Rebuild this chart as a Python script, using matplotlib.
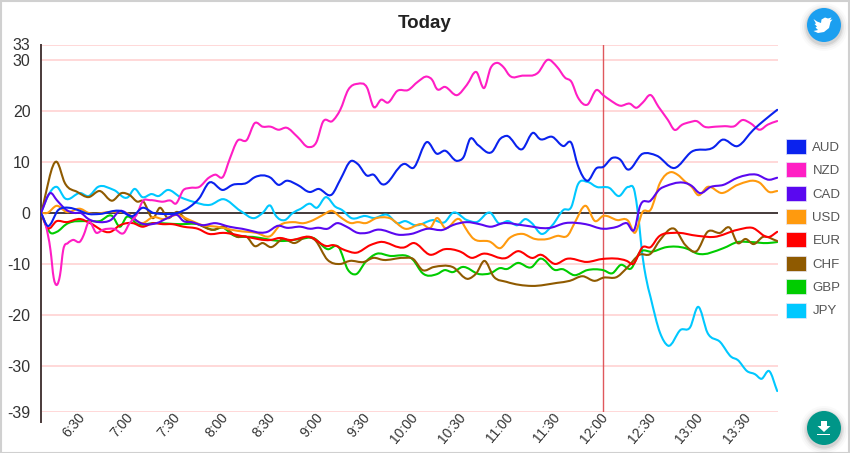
import numpy as np
import matplotlib
matplotlib.use('Agg')
import matplotlib.pyplot as plt
from matplotlib.path import Path
from matplotlib.patches import PathPatch, Patch, Circle, Rectangle, Polygon
from matplotlib.transforms import ScaledTranslation

plt.rcParams['font.family'] = ['Liberation Sans', 'DejaVu Sans']

# (minutes after 6:00, value)
aud = [(5,0),(9,-2.5),(16,.6),(23,1),(28,.6),(35,-.2),(42,-.2),(55,.4),(63,-.6),(69,1),(76,0),(82,-.2),(91,0),
       (99,1.2),(105,2.9),(111,5.9),(120,4.5),(126,5.5),(135,5.9),(140,7),(150,6.9),(155,5.5),(160,6.3),(167,5.5),
       (175,4.1),(180,4.7),(189,3.7),(194,6.5),(201,10.2),(205,9.6),(211,7.3),(215,7.5),(220,5.7),(235,9.6),(240,8.8),
       (249,13.9),(255,11.6),(260,12.2),(268,10.2),(272,11),(276,14.5),(281,13.3),(290,12),(295,14.5),(299,15.1),
       (309,12.5),(316,15.7),(320,14.5),(328,14.9),(335,13.1),(340,13.7),(344,9.4),(350,6.3),(356,8.8),(360,9),
       (366,10.8),(371,10.4),(375,8.6),(385,11.6),(394,11.2),(405,8.8),(416,12),(430,12.9),(435,14.3),(445,13.1),
       (455,16.3),(462,18.2),(470,20.2)]
nzd = [(5,0),(8,-2.4),(11,-7.3),(13,-12.7),(15,-14.1),(17,-12.2),(19,-7.3),(22,-5.9),(25,-5.3),(30,-5.5),(32,-4.3),
       (35,-1.8),(40,-3.9),(44,-3.3),(51,-3.1),(58,-3.7),(60,-2.5),(66,0),(69,2.2),(74,2.5),(82,2.2),(87,2.4),(90,1.8),
       (95,4.5),(99,4.9),(105,5.1),(111,6.9),(115,7.5),(120,7.1),(124,10.4),(129,14.1),(135,14.3),(140,17.6),(145,16.9),
       (150,16.9),(155,16.3),(160,16.7),(167,14.9),(174,12.9),(179,13.9),(183,17.8),(189,18),(194,20.2),(199,24.1),
       (205,25.3),(211,24.5),(215,20.8),(220,22.2),(224,21.6),(230,23.9),(237,24.1),(243,25.7),(249,26.7),(252,26.1),
       (255,24.3),(260,24.7),(268,23.1),(274,25.1),(280,27.6),(285,24.5),(289,28.4),(293,29.4),(297,28.6),(301,26.9),
       (309,26.9),(319,27.5),(325,30),(331,28.6),(336,26.5),(340,25.7),(344,22.7),(350,21.2),(356,24.1),(360,23.1),
       (364,22.2),(371,21),(377,21.4),(381,20.6),(385,21.6),(390,23.1),(395,20.8),(401,18.2),(405,16.3),(410,17.3),
       (415,17.8),(419,18),(424,16.9),(431,16.9),(437,17),(443,17),(448,18.2),(453,17.6),(459,16.3),(464,17.3),(470,18)]
cad = [(5,0),(11,3.9),(15,2.5),(21,.6),(26,0),(30,0),(35,-1.2),(42,-1.8),(49,-1.4),(55,.4),(61,-.5),(68,-2),(78,-2),
       (85,-1),(91,-.4),(95,-1.6),(100,-1.8),(107,-2.4),(115,-2),(124,-2.7),(132,-3.1),(148,-3.7),(155,-2.5),(160,-2.9),
       (169,-2.7),(175,-3.1),(180,-2.9),(186,-3.1),(192,-2),(198,-2.7),(205,-3.9),(211,-3.9),(217,-3.3),(232,-4.3),
       (239,-4.1),(249,-3.1),(259,-3.3),(265,-2.4),(274,-1.8),(282,-2.2),(289,-2.7),(297,-2),(309,-2.4),(327,-2.9),
       (336,-2),(349,-2.2),(360,-3.1),(369,-2.7),(375,-2),(380,-3.1),(383,1),(390,2.4),(396,4.7),(400,5.3),(416,5.3),
       (421,3.9),(428,5.1),(436,5.5),(445,6.9),(457,7.5),(465,6.5),(470,6.9)]
usd = [(5,0),(9,0),(15,1.4),(21,.2),(30,.8),(35,0),(49,.2),(59,0),(69,-2),(76,-.8),(82,-1.2),(91,-.4),(99,-1.4),
       (107,-2.4),(116,-2.7),(129,-3.5),(141,-3.9),(150,-4.5),(156,-2.4),(164,-1.8),(171,-2),(177,-1.4),(183,-.4),
       (189,.4),(194,-.8),(201,-2),(205,-1.8),(210,-2),(217,-1),(225,-1),(235,-3.1),(246,-2.2),(251,-2.9),(255,-1),
       (260,-2.9),(270,-1.4),(273,-2.9),(277,-4.7),(289,-5.7),(295,-6.9),(301,-4.9),(309,-4.1),(317,-5.1),(325,-5.1),
       (331,-4.5),(338,-4.3),(342,-2),(349,1.4),(355,-1.6),(360,-.6),(369,-1.4),(376,-1.6),(380,-3.9),(385,.2),(390,.6),
       (396,5.9),(403,8),(407,7.5),(412,6.1),(416,5.1),(420,3.5),(426,5.1),(435,3.9),(445,5.5),(459,5.9),(465,4.1),
       (470,4.3)]
eur = [(5,0),(9,-2.9),(15,-1.6),(21,-1.8),(30,-1.2),(36,-2),(49,-3.7),(55,-2.4),(63,-2),(69,-2.7),(76,-2),(82,-2.2),
       (88,-2.2),(95,-2.7),(104,-3.1),(111,-4.1),(120,-3.9),(135,-4.7),(150,-5.3),(156,-4.9),(162,-5.3),(175,-4.7),
       (186,-6.5),(189,-6.3),(197,-7.3),(204,-7.8),(213,-6.3),(219,-5.7),(235,-6.7),(240,-5.9),(251,-8.2),(260,-7.1),
       (270,-7.6),(277,-8.8),(284,-8),(299,-8.8),(306,-7.5),(316,-8.8),(320,-8.2),(330,-10),(337,-9),(350,-9.6),(360,-9),
       (375,-9.4),(379,-10),(385,-6.7),(390,-6.7),(395,-4.7),(405,-3.9),(420,-4.5),(430,-4.7),(445,-3.3),(454,-2.9),
       (465,-4.7),(470,-3.7)]
chf = [(5,0),(15,10),(20,5.9),(28,4.1),(35,3.1),(42,4.3),(50,2.4),(56,3.9),(61,3.5),(66,2.2),(69,2.4),(76,-1),(80,1),
       (85,-1),(91,.2),(97,-1.4),(104,-2.2),(114,-3.3),(120,-2.7),(129,-4.7),(135,-4.7),(140,-6.5),(145,-5.9),(150,-6.7),
       (158,-5.1),(165,-5.9),(173,-4.7),(178,-5.3),(186,-9.2),(194,-10),(200,-9.4),(209,-9.6),(215,-8.8),(221,-9.2),
       (234,-8.8),(240,-9),(246,-11.2),(253,-10.6),(265,-10.6),(275,-12.9),(280,-11.8),(285,-9.4),(291,-12.5),(299,-13.5),
       (315,-14.3),(331,-13.7),(339,-13.3),(347,-12.4),(355,-13.3),(360,-12.7),(369,-12.5),(375,-10.8),(383,-8.2),(390,-8),
       (396,-5.3),(405,-3.1),(412,-6.3),(419,-7.5),(426,-3.7),(434,-3.9),(440,-2.9),(445,-5.9),(450,-5.1),(455,-6.1),
       (461,-4.7),(470,-5.5)]
gbp = [(5,0),(11,-3.9),(15,-3.7),(21,-2.2),(35,-1.6),(42,-1.6),(50,-.6),(55,-2.7),(59,-.8),(66,-2.2),(76,-2),(93,-2.2),
       (104,-2.2),(114,-3.3),(120,-2.9),(126,-4.3),(139,-4.7),(158,-5.5),(169,-5.1),(177,-4.9),(186,-7.1),(193,-6.7),
       (199,-11.2),(204,-12),(210,-9.6),(217,-8),(225,-8.4),(240,-9.2),(246,-11.8),(255,-12),(260,-11.2),(265,-11.6),
       (271,-10.6),(282,-12),(289,-11.8),(295,-10.8),(299,-11),(306,-9.8),(315,-10.6),(320,-9),(330,-11.2),(334,-11),
       (342,-12.2),(350,-11.2),(360,-11.2),(366,-11.8),(371,-10.2),(378,-10.8),(383,-7.8),(391,-7.6),(400,-6.7),(412,-6.9),
       (420,-8),(436,-6.9),(445,-5.7),(453,-5.7),(464,-5.9),(470,-5.7)]
jpy = [(5,0),(9,3.1),(15,5.1),(20,2.9),(30,3.9),(35,3.3),(41,5.1),(51,4.5),(60,3.1),(64,4.7),(69,3.1),(75,3.7),(79,3.3),
       (85,4.5),(93,3.1),(101,2.2),(112,1.6),(120,2.7),(131,.4),(140,-1),(145,0),(150,1.4),(153,-.4),(159,-1.4),(164,0),
       (169,.8),(175,1.8),(179,1),(185,3.1),(191,1.2),(195,.6),(201,-1),(210,-.6),(215,-1),(224,-.4),(230,-2),(235,-1.6),
       (241,-2.4),(253,-1.4),(260,-1.8),(265,0),(274,-1.4),(280,-1.8),(289,0),(294,-2),(300,-1.6),(306,-2.4),(311,-1.2),
       (315,-2),(321,-4.1),(328,-2.4),(335,.6),(340,1.2),(344,5.5),(350,6.1),(356,5.1),(364,4.9),(370,3.3),(376,5.1),
       (380,4.1),(382,0),(385,-8.6),(387,-12.5),(390,-16.5),(396,-23.5),(401,-26),(409,-22.9),(415,-22.4),(420,-18.4),
       (426,-23.5),(434,-25.3),(441,-28.2),(445,-28.8),(451,-31),(456,-31.6),(460,-32.5),(465,-31),(470,-34.9)]

names = ['AUD', 'NZD', 'CAD', 'USD', 'EUR', 'CHF', 'GBP', 'JPY']
series = [aud, nzd, cad, usd, eur, chf, gbp, jpy]
colors = ['#0a22ee', '#ff1ec4', '#5a08f0', '#ff9a0e', '#ff0000', '#8f5a00', '#00cc00', '#00c8ff']

y_ticks = [33, 30, 20, 10, 0, -10, -20, -30, -39]
y_labels = ['33', '30', '20', '10', '0', '-10', '-20', '-30', '-39']
x_ticks = [30, 60, 90, 120, 150, 180, 210, 240, 270, 300, 330, 360, 390, 420, 450]
x_labels = ['6:30', '7:00', '7:30', '8:00', '8:30', '9:00', '9:30', '10:00', '10:30', '11:00', '11:30',
            '12:00', '12:30', '13:00', '13:30']
hour_ticks = [60, 120, 180, 240, 300, 360, 420]


# smooth bezier path through the read points, the chart draws splines too
def smooth_path(points):
    t = np.array([p[0] for p in points], dtype=float)
    v = np.array([p[1] for p in points], dtype=float)
    m = np.gradient(v, t)
    verts = [(t[0], v[0])]
    codes = [Path.MOVETO]
    for i in range(len(t) - 1):
        h = (t[i+1] - t[i]) / 3
        verts += [(t[i] + h, v[i] + m[i]*h), (t[i+1] - h, v[i+1] - m[i+1]*h), (t[i+1], v[i+1])]
        codes += [Path.CURVE4] * 3
    return Path(verts, codes)


fig = plt.figure(figsize=(8.5, 4.53), dpi=100)
ax = fig.add_axes([41/850, 1 - 412/453, 737/850, 367.5/453])
ax.set_xlim(5, 470.5)
ax.set_ylim(-39, 33)

ax.set_yticks(y_ticks)
ax.set_yticklabels(y_labels)
ax.set_xticks(x_ticks)
ax.set_xticklabels(x_labels, rotation=50, ha='right', va='top', rotation_mode='anchor', fontsize=10, color='#333333')
ax.set_xticks(hour_ticks, minor=True)
ax.tick_params(axis='y', length=0, labelsize=11.5, labelcolor='#333333', pad=7.5)
ax.tick_params(axis='x', which='both', length=0, pad=-1)
for label in ax.get_xticklabels():
    label.set_transform(label.get_transform() + ScaledTranslation(-3/100, 0, fig.dpi_scale_trans))
ax.grid(axis='y', color='#ffd6d6', lw=1.3)
ax.grid(axis='x', which='minor', color='#eeeeee', lw=1)
ax.set_axisbelow(True)
for s in ['top', 'right', 'bottom', 'left']:
    ax.spines[s].set_visible(False)

ax.axhline(0, color='#111111', lw=1.1, zorder=2)
ax.axvline(5, ymin=-0.028, ymax=1, color='#4a3a3a', lw=1.4, clip_on=False, zorder=2)
ax.axvline(360, color='#e0585c', lw=1, zorder=3)

for i, (pts, col) in enumerate(zip(series, colors)):
    ax.add_patch(PathPatch(smooth_path(pts), fill=False, edgecolor=col, lw=1.5, zorder=12 - i, capstyle='round'))

handles = [Patch(facecolor=c, edgecolor='#e8e8f8', lw=0.5, label=n) for n, c in zip(names, colors)]
ax.legend(handles=handles, loc='upper left', bbox_to_anchor=(745/737, 1 - (139 - 44.5)/367.5), frameon=False,
          fontsize=9.5, labelcolor='#555555', handlelength=1.5, handleheight=1.37, labelspacing=0.635,
          handletextpad=0.5, borderpad=0, borderaxespad=0)

fig.text(425/850, 1 - 23.5/453, 'Today', ha='center', va='center', fontsize=13.5, fontweight='bold', color='#222222')

# overlay in pixel coordinates for the page border and the round buttons
over = fig.add_axes([0, 0, 1, 1], zorder=20)
over.set_xlim(0, 850)
over.set_ylim(453, 0)
over.axis('off')
over.patch.set_alpha(0)
over.add_patch(Rectangle((0.5, 0.5), 849, 452, fill=False, edgecolor='#d0d0d0', lw=1.5))

for cx, cy, col in [(824, 25, '#1b9ff0'), (824, 428, '#009688')]:
    for r, a in [(24, .02), (22, .03), (20, .05), (18.5, .08)]:
        over.add_patch(Circle((cx, cy + 2), r, color='black', alpha=a, lw=0))
    over.add_patch(Circle((cx, cy), 17, color=col, lw=0))

# twitter bird
bird = [(813.5, 19), (817, 21.5), (821, 23), (821.5, 19.5), (825, 17.5), (828, 18.5), (831.5, 17.5), (830, 20),
        (832.5, 19.5), (830.5, 22), (829, 28), (824, 32), (818, 33), (813.5, 31), (818, 30), (815.5, 27.5), (817, 26.5),
        (814.5, 24), (816, 23.5)]
over.add_patch(Polygon(bird, color='white', lw=0))
# download arrow
arrow = [(821, 421), (827, 421), (827, 426), (830.5, 426), (824, 432), (817.5, 426), (821, 426)]
over.add_patch(Polygon(arrow, color='white', lw=0))
over.add_patch(Rectangle((817.5, 433.5), 13, 1.8, color='white', lw=0))

fig.savefig('out.png', dpi=100)
